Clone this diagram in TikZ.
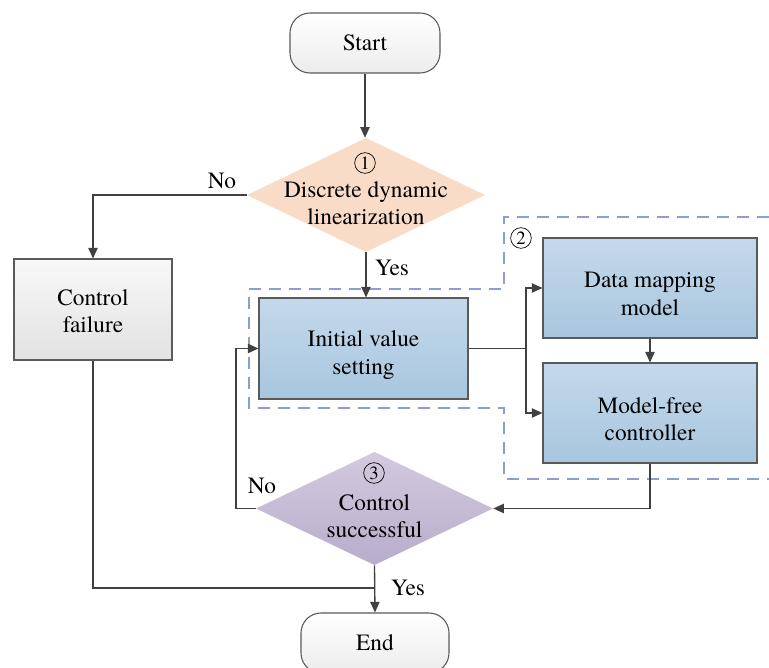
\documentclass[tikz,border=0pt]{standalone}
\usepackage{fontspec}
\setmainfont{texgyretermes-regular.otf}
\newfontfamily\serifont{texgyretermes-regular.otf}
\usetikzlibrary{shapes.geometric,arrows.meta}
\definecolor{edgecol}{HTML}{404040}
\definecolor{bordcol}{HTML}{5A5A5A}
\definecolor{dashcol}{HTML}{8E9ED4}
\definecolor{peach}{HTML}{F8DCC7}
\definecolor{bluetop}{HTML}{C4D9EB}
\definecolor{bluebot}{HTML}{A8C6DE}
\definecolor{purtop}{HTML}{D3CAE0}
\definecolor{purbot}{HTML}{B7ADCB}
\definecolor{graytop}{HTML}{F8F8F8}
\definecolor{graybot}{HTML}{E2E2E2}
\tikzset{
  every node/.style={font=\serifont\fontsize{17.5}{20.5}\selectfont, align=center},
  terminal/.style={draw=bordcol, line width=0.8pt, rounded corners=15pt, top color=white, bottom color=graytop!90!gray, inner sep=0pt},
  bluebox/.style={draw=bordcol, line width=0.8pt, top color=bluetop, bottom color=bluebot, inner sep=0pt},
  graybox/.style={draw=bordcol, line width=0.8pt, top color=graytop, bottom color=graybot, inner sep=0pt},
  decision/.style={diamond, draw=none, inner sep=0pt},
  conn/.style={draw=edgecol, line width=1pt},
  arr/.style={conn, -{Triangle[length=8pt,width=7pt]}},
  grp/.style={draw=dashcol, line width=0.9pt, dash pattern=on 9pt off 6pt},
  lbl/.style={inner sep=0pt},
  txt/.style={inner sep=0pt},
  circ/.style={circle, draw=black, line width=0.5pt, minimum size=15.5pt, inner sep=0pt, font=\serifont\fontsize{14}{14}\selectfont}
}
\begin{document}
\begin{tikzpicture}[x=0.75pt, y=-0.75pt]
\useasboundingbox (0,0) rectangle (769,668);
% group dashed outline
\draw[grp] (769,217) -- (504,217) -- (504,289) -- (249,289) -- (249,408) -- (504,408) -- (504,479) -- (769,479);
\node[circ] (n2) at (521,238) {2};

\node[terminal, minimum width=112.5pt, minimum height=45pt] (start) at (365,43) {Start};

\path[fill=peach] (366,138) -- (485,195) -- (366,252) -- (247,195) -- cycle;
\node[decision, minimum width=178.5pt, minimum height=85.5pt] (d1) at (366,195) {};
\node[circ] (n1) at (365,163) {1};
\node[txt] (d1t) at (366,203) {Discrete dynamic\\linearization};

\node[graybox, minimum width=118.5pt, minimum height=75.75pt] (cf) at (93,309.5) {};
\node[txt] (cft) at (93,311) {Control\\failure};
\node[bluebox, minimum width=156.75pt, minimum height=75.75pt] (init) at (363.5,348.5) {};
\node[txt] (initt) at (363.5,355) {Initial value\\setting};
\node[bluebox, minimum width=160.5pt, minimum height=75pt] (dmm) at (650,288) {};
\node[txt] (dmmt) at (650,294) {Data mapping\\model};
\node[bluebox, minimum width=160.5pt, minimum height=75pt] (mfc) at (650,413) {};
\node[txt] (mfct) at (650,419) {Model-free\\controller};

\path[top color=purtop, bottom color=purbot] (374.5,452) -- (493,508.5) -- (374.5,565) -- (256,508.5) -- cycle;
\node[decision, minimum width=177.75pt, minimum height=84.75pt] (d2) at (374.5,508.5) {};
\node[circ] (n3) at (374,473) {3};
\node[txt] (d2t) at (374.5,516) {Control\\successful};

\node[terminal, minimum width=111pt, minimum height=45pt] (end) at (375,643) {End};

% connectors
\draw[arr] (start.south) -- (start.south |- d1.north);
\draw[arr] (d1.west) -| (cf.north);
\node[lbl] (no1) at (222,181) {No};
\draw[arr] (d1.south) -- (d1.south |- init.north);
\node[lbl] (yes1) at (392,268) {Yes};
\coordinate (br) at (526,348.5);
\draw[conn] (init.east) -- (br);
\draw[arr] (br) |- (dmm.west);
\draw[arr] (br) |- (mfc.west);
\draw[arr] (dmm.south) -- (mfc.north);
\draw[arr] (mfc.south) |- (d2.east);
\coordinate (lp) at (236,508.5);
\draw[arr] (d2.west) -- (lp) |- (init.west);
\node[lbl] (no2) at (262,486) {No};
\coordinate (jn) at (374.5,588);
\draw[conn] (cf.south) |- (jn);
\draw[arr] (d2.south) -- (end.north);
\node[lbl] (yes2) at (408,588) {Yes};
\end{tikzpicture}
\end{document}
